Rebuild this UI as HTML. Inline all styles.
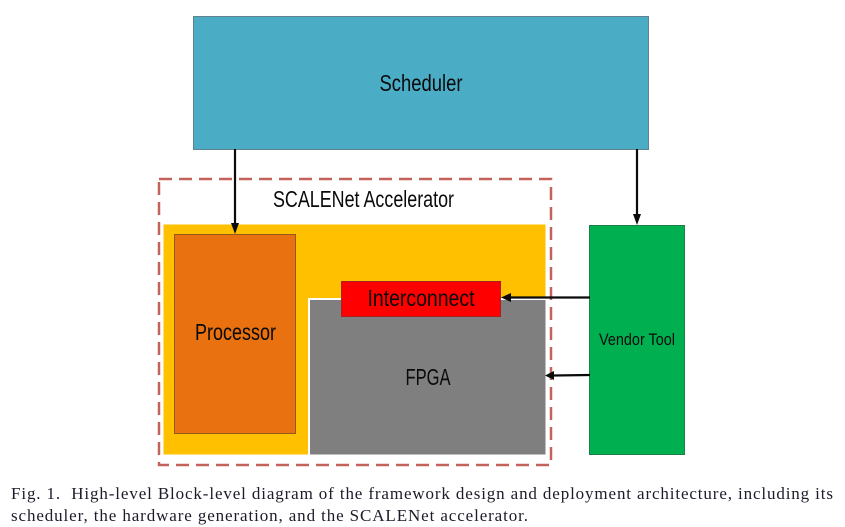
<!DOCTYPE html>
<html><head><meta charset="utf-8"><style>
html,body{margin:0;padding:0;background:#fff;width:845px;height:527px;overflow:hidden}
svg{display:block}
.l{font-family:"Liberation Sans",sans-serif;fill:#0a0a0a}
.c{font-family:"Liberation Serif",serif;fill:#1c1c2a;font-size:17px;white-space:pre}
</style></head><body>
<svg width="845" height="527" viewBox="0 0 845 527" xmlns="http://www.w3.org/2000/svg">
<rect x="193.500" y="16.500" width="455" height="133" fill="#4bacc6" stroke="#5f8490"/>
<text class="l" x="421" y="91" text-anchor="middle" font-size="23" textLength="83" lengthAdjust="spacingAndGlyphs">Scheduler</text>
<rect x="159" y="179" width="392" height="286" fill="none" stroke="#c4625c" stroke-width="2.500" stroke-dasharray="13 7"/>
<text class="l" x="363.500" y="207" text-anchor="middle" font-size="23" textLength="181" lengthAdjust="spacingAndGlyphs">SCALENet Accelerator</text>
<rect x="163.500" y="224.500" width="382" height="230" fill="#ffc000"/>
<rect x="174.500" y="234.500" width="121" height="199" fill="#e9710f" stroke="#8f5a1c"/>
<text class="l" x="235.500" y="340" text-anchor="middle" font-size="23" textLength="81" lengthAdjust="spacingAndGlyphs">Processor</text>
<rect x="308" y="298" width="238" height="157" fill="#fff"/>
<rect x="310" y="300" width="235.500" height="154.500" fill="#7f7f7f"/>
<text class="l" x="428" y="385" text-anchor="middle" font-size="23" textLength="45" lengthAdjust="spacingAndGlyphs">FPGA</text>
<rect x="341.500" y="281.500" width="159" height="35" fill="#ff0000" stroke="#a82020"/>
<text class="l" x="421" y="306" text-anchor="middle" font-size="23" textLength="107" lengthAdjust="spacingAndGlyphs">Interconnect</text>
<rect x="589.500" y="225.500" width="95" height="229" fill="#00b050" stroke="#1f7f4b"/>
<text class="l" x="637" y="345" text-anchor="middle" font-size="17" textLength="76" lengthAdjust="spacingAndGlyphs">Vendor Tool</text>
<g stroke="#0a0a0a" stroke-width="2.200" fill="#0a0a0a">
<line x1="235" y1="149" x2="235" y2="224"/>
<path d="M231 223 H239 L235 234 Z" stroke="none"/>
<line x1="637" y1="149" x2="637" y2="215"/>
<path d="M633 214 H641 L637 225 Z" stroke="none"/>
<line x1="590" y1="297.500" x2="510" y2="297.500"/>
<path d="M511 293 V302 L501 297.500 Z" stroke="none"/>
<line x1="590" y1="375" x2="553" y2="375.500"/>
<path d="M554 371 V380 L545 375.500 Z" stroke="none"/>
</g>
<text class="c" x="11" y="499" textLength="822" lengthAdjust="spacing">Fig. 1.  High-level Block-level diagram of the framework design and deployment architecture, including its</text>
<text class="c" x="11" y="521" textLength="517" lengthAdjust="spacing">scheduler, the hardware generation, and the SCALENet accelerator.</text>
</svg>
</body></html>
